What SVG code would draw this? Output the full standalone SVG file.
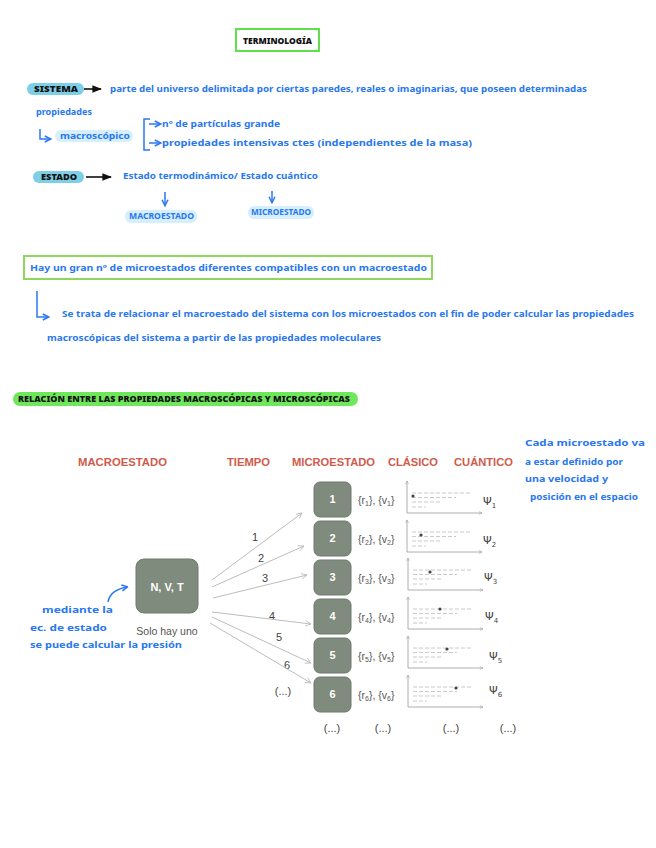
<svg xmlns="http://www.w3.org/2000/svg" width="656" height="848" viewBox="0 0 656 848">
<defs>
<style>
.hw{font-family:"Noto Sans","DejaVu Sans",sans-serif;font-weight:bold;font-size:8.5px;fill:#2a78f0;}
.hk{font-family:"Noto Sans","DejaVu Sans",sans-serif;font-weight:900;font-size:8.5px;fill:#111;}
.hd{font-family:"Liberation Sans",Arial,sans-serif;font-weight:bold;font-size:11.5px;fill:#cf5b4b;}
.gb{fill:#7f8b7d;stroke:#6e7a6c;stroke-width:1;}
.gt{font-family:"Liberation Sans",Arial,sans-serif;font-weight:bold;font-size:11px;fill:#fff;text-anchor:middle;}
.lb{font-family:"Liberation Sans",Arial,sans-serif;font-size:10.5px;fill:#555;}
.num{font-family:"Liberation Sans",Arial,sans-serif;font-size:11px;fill:#444;text-anchor:middle;}
.con{stroke:#bcbcbc;stroke-width:1;fill:none;marker-end:url(#ga);}
.ax{stroke:#9a9a9a;stroke-width:0.8;fill:none;marker-end:url(#sa);}
.ds{stroke:#bdbdbd;stroke-width:0.8;stroke-dasharray:4 2;}
.bl{stroke:#2a78f0;stroke-width:1.5;fill:none;}
.psi{font-family:"DejaVu Sans",sans-serif;font-size:11px;fill:#444;}
</style>
<marker id="ga" viewBox="0 0 10 10" refX="9" refY="5" markerWidth="7" markerHeight="7" orient="auto"><path d="M1,1 L9,5 L1,9" fill="none" stroke="#bcbcbc" stroke-width="1.2"/></marker>
<marker id="sa" viewBox="0 0 10 10" refX="9" refY="5" markerWidth="5" markerHeight="5" orient="auto"><path d="M1,1 L9,5 L1,9" fill="none" stroke="#9a9a9a" stroke-width="1.2"/></marker>
<marker id="ka" viewBox="0 0 10 10" refX="9" refY="5" markerWidth="6" markerHeight="6" orient="auto"><path d="M0,1 L10,5 L0,9 z" fill="#111"/></marker>
<marker id="ba" viewBox="0 0 10 10" refX="8" refY="5" markerWidth="5" markerHeight="5" orient="auto"><path d="M1,1 L9,5 L1,9" fill="none" stroke="#2a78f0" stroke-width="2"/></marker>
</defs>
<rect width="656" height="848" fill="#fff"/>

<g id="title">
<rect x="236" y="29" width="83" height="22" fill="#fff" stroke="#5ee04a" stroke-width="2"/>
<text class="hk" x="243" y="44" textLength="69" lengthAdjust="spacingAndGlyphs">TERMINOLOGÍA</text>
</g>

<g id="sistema">
<rect x="27" y="83" width="57" height="12" rx="6" fill="#7ccfe6"/>
<text class="hk" x="34" y="92" textLength="44" lengthAdjust="spacingAndGlyphs">SISTEMA</text>
<text class="hw" x="110" y="92" textLength="477" lengthAdjust="spacingAndGlyphs">parte del universo delimitada por ciertas paredes, reales o imaginarias, que poseen determinadas</text>
<text class="hw" x="36" y="115" textLength="56" lengthAdjust="spacingAndGlyphs">propiedades</text>
<rect x="55" y="130" width="78" height="12" rx="6" fill="#d6effb"/>
<text class="hw" x="60" y="139" textLength="70" lengthAdjust="spacingAndGlyphs">macroscópico</text>
<text class="hw" x="162" y="127" textLength="118" lengthAdjust="spacingAndGlyphs">nº de partículas grande</text>
<text class="hw" x="162" y="146" textLength="310" lengthAdjust="spacingAndGlyphs">propiedades intensivas ctes (independientes de la masa)</text>
</g>

<g id="estado">
<rect x="33" y="171" width="51" height="12" rx="6" fill="#7ccfe6"/>
<text class="hk" x="41" y="180" textLength="36" lengthAdjust="spacingAndGlyphs">ESTADO</text>
<text class="hw" x="123" y="179" textLength="195" lengthAdjust="spacingAndGlyphs">Estado termodinámico/ Estado cuántico</text>
<rect x="125" y="210" width="72" height="13" rx="6" fill="#d6effb"/>
<text class="hw" x="129" y="219" textLength="65" lengthAdjust="spacingAndGlyphs">MACROESTADO</text>
<rect x="248" y="206" width="66" height="13" rx="6" fill="#d6effb"/>
<text class="hw" x="251" y="215" textLength="60" lengthAdjust="spacingAndGlyphs">MICROESTADO</text>
</g>

<g id="nota-microestados">
<rect x="24" y="256" width="408" height="23" fill="#fff" stroke="#8fd65c" stroke-width="2"/>
<text class="hw" x="30" y="271" textLength="397" lengthAdjust="spacingAndGlyphs">Hay un gran nº de microestados diferentes compatibles con un macroestado</text>
</g>

<g id="nota-relacion">
<text class="hw" x="62" y="317" textLength="572" lengthAdjust="spacingAndGlyphs">Se trata de relacionar el macroestado del sistema con los microestados con el fin de poder calcular las propiedades</text>
<text class="hw" x="47" y="341" textLength="334" lengthAdjust="spacingAndGlyphs">macroscópicas del sistema a partir de las propiedades moleculares</text>
</g>

<g id="relacion-header">
<rect x="13" y="392" width="345" height="14" rx="7" fill="#6ee85a"/>
<text class="hk" x="18" y="402" textLength="332" lengthAdjust="spacingAndGlyphs">RELACIÓN ENTRE LAS PROPIEDADES MACROSCÓPICAS Y MICROSCÓPICAS</text>
</g>

<g id="headers">
<text class="hd" x="78" y="466" textLength="89" lengthAdjust="spacingAndGlyphs">MACROESTADO</text>
<text class="hd" x="227" y="466" textLength="43" lengthAdjust="spacingAndGlyphs">TIEMPO</text>
<text class="hd" x="292" y="466" textLength="83" lengthAdjust="spacingAndGlyphs">MICROESTADO</text>
<text class="hd" x="388" y="466" textLength="50" lengthAdjust="spacingAndGlyphs">CLÁSICO</text>
<text class="hd" x="454" y="466" textLength="59" lengthAdjust="spacingAndGlyphs">CUÁNTICO</text>
</g>

<g id="nota-derecha">
<text class="hw" x="525" y="446" textLength="120" lengthAdjust="spacingAndGlyphs">Cada microestado va</text>
<text class="hw" x="525" y="465" textLength="98" lengthAdjust="spacingAndGlyphs">a estar definido por</text>
<text class="hw" x="525" y="482" textLength="83" lengthAdjust="spacingAndGlyphs">una velocidad y</text>
<text class="hw" x="530" y="500" textLength="108" lengthAdjust="spacingAndGlyphs">posición en el espacio</text>
</g>

<g id="nota-izquierda">
<text class="hw" x="42" y="613" textLength="71" lengthAdjust="spacingAndGlyphs">mediante la</text>
<text class="hw" x="30" y="631" textLength="77" lengthAdjust="spacingAndGlyphs">ec. de estado</text>
<text class="hw" x="30" y="648" textLength="152" lengthAdjust="spacingAndGlyphs">se puede calcular la presión</text>
</g>

<g id="macroestado">
<rect class="gb" x="136" y="559" width="62" height="54" rx="8"/>
<text class="gt" x="167" y="591">N, V, T</text>
<text class="lb" x="167" y="635" text-anchor="middle">Solo hay uno</text>
</g>

<g id="micro-1"><rect class="gb" x="314" y="482" width="37" height="35" rx="6"/><text class="gt" x="332.5" y="503">1</text><text class="lb" x="358" y="504">{r<tspan font-size="7" dy="2">1</tspan><tspan dy="-2">}, {v</tspan><tspan font-size="7" dy="2">1</tspan><tspan dy="-2">}</tspan></text></g>
<g id="micro-2"><rect class="gb" x="314" y="521" width="37" height="35" rx="6"/><text class="gt" x="332.5" y="542">2</text><text class="lb" x="358" y="543">{r<tspan font-size="7" dy="2">2</tspan><tspan dy="-2">}, {v</tspan><tspan font-size="7" dy="2">2</tspan><tspan dy="-2">}</tspan></text></g>
<g id="micro-3"><rect class="gb" x="314" y="560" width="37" height="35" rx="6"/><text class="gt" x="332.5" y="581">3</text><text class="lb" x="358" y="582">{r<tspan font-size="7" dy="2">3</tspan><tspan dy="-2">}, {v</tspan><tspan font-size="7" dy="2">3</tspan><tspan dy="-2">}</tspan></text></g>
<g id="micro-4"><rect class="gb" x="314" y="599" width="37" height="35" rx="6"/><text class="gt" x="332.5" y="620">4</text><text class="lb" x="358" y="621">{r<tspan font-size="7" dy="2">4</tspan><tspan dy="-2">}, {v</tspan><tspan font-size="7" dy="2">4</tspan><tspan dy="-2">}</tspan></text></g>
<g id="micro-5"><rect class="gb" x="314" y="638" width="37" height="35" rx="6"/><text class="gt" x="332.5" y="659">5</text><text class="lb" x="358" y="660">{r<tspan font-size="7" dy="2">5</tspan><tspan dy="-2">}, {v</tspan><tspan font-size="7" dy="2">5</tspan><tspan dy="-2">}</tspan></text></g>
<g id="micro-6"><rect class="gb" x="314" y="677" width="37" height="35" rx="6"/><text class="gt" x="332.5" y="698">6</text><text class="lb" x="358" y="699">{r<tspan font-size="7" dy="2">6</tspan><tspan dy="-2">}, {v</tspan><tspan font-size="7" dy="2">6</tspan><tspan dy="-2">}</tspan></text></g>

<g id="clasico-plots">
<g transform="translate(0,0)">
<path class="ax" d="M407,513 V481"/><path class="ax" d="M407,513 H482"/>
<line class="ds" x1="412" y1="493" x2="472" y2="493"/><line class="ds" x1="412" y1="497.5" x2="456" y2="497.5"/><line class="ds" x1="412" y1="502" x2="440" y2="502"/><line class="ds" x1="412" y1="507" x2="426" y2="507"/>
<circle cx="413" cy="496" r="1.6" fill="#444"/>
</g>
<g transform="translate(0,39)">
<path class="ax" d="M407,513 V481"/><path class="ax" d="M407,513 H482"/>
<line class="ds" x1="412" y1="493" x2="472" y2="493"/><line class="ds" x1="412" y1="497.5" x2="456" y2="497.5"/><line class="ds" x1="412" y1="502" x2="440" y2="502"/><line class="ds" x1="412" y1="507" x2="426" y2="507"/>
<circle cx="421" cy="496" r="1.6" fill="#444"/>
</g>
<g transform="translate(1,77)">
<path class="ax" d="M407,513 V481"/><path class="ax" d="M407,513 H482"/>
<line class="ds" x1="412" y1="493" x2="472" y2="493"/><line class="ds" x1="412" y1="497.5" x2="456" y2="497.5"/><line class="ds" x1="412" y1="502" x2="440" y2="502"/><line class="ds" x1="412" y1="507" x2="426" y2="507"/>
<circle cx="429" cy="495" r="1.6" fill="#444"/>
</g>
<g transform="translate(1,116)">
<path class="ax" d="M407,513 V481"/><path class="ax" d="M407,513 H482"/>
<line class="ds" x1="412" y1="493" x2="472" y2="493"/><line class="ds" x1="412" y1="497.5" x2="456" y2="497.5"/><line class="ds" x1="412" y1="502" x2="440" y2="502"/><line class="ds" x1="412" y1="507" x2="426" y2="507"/>
<circle cx="439" cy="493" r="1.6" fill="#444"/>
</g>
<g transform="translate(1,155)">
<path class="ax" d="M407,513 V481"/><path class="ax" d="M407,513 H482"/>
<line class="ds" x1="412" y1="493" x2="472" y2="493"/><line class="ds" x1="412" y1="497.5" x2="456" y2="497.5"/><line class="ds" x1="412" y1="502" x2="440" y2="502"/><line class="ds" x1="412" y1="507" x2="426" y2="507"/>
<circle cx="446" cy="494" r="1.6" fill="#444"/>
</g>
<g transform="translate(1,194)">
<path class="ax" d="M407,513 V481"/><path class="ax" d="M407,513 H482"/>
<line class="ds" x1="412" y1="493" x2="472" y2="493"/><line class="ds" x1="412" y1="497.5" x2="456" y2="497.5"/><line class="ds" x1="412" y1="502" x2="440" y2="502"/><line class="ds" x1="412" y1="507" x2="426" y2="507"/>
<circle cx="455" cy="494" r="1.6" fill="#444"/>
</g>
</g>

<g id="cuantico">
<text class="psi" x="483" y="505">Ψ<tspan font-size="7" dy="3">1</tspan></text>
<text class="psi" x="483" y="544">Ψ<tspan font-size="7" dy="3">2</tspan></text>
<text class="psi" x="484" y="581">Ψ<tspan font-size="7" dy="3">3</tspan></text>
<text class="psi" x="485" y="620">Ψ<tspan font-size="7" dy="3">4</tspan></text>
<text class="psi" x="489" y="660">Ψ<tspan font-size="7" dy="3">5</tspan></text>
<text class="psi" x="489" y="694">Ψ<tspan font-size="7" dy="3">6</tspan></text>
</g>

<g id="etiquetas">
<text class="num" x="255" y="541">1</text>
<text class="num" x="261" y="562">2</text>
<text class="num" x="265" y="582">3</text>
<text class="num" x="272" y="620">4</text>
<text class="num" x="279" y="641">5</text>
<text class="num" x="287" y="669">6</text>
<text class="num" x="283" y="695">(...)</text>
<text class="num" x="332" y="732">(...)</text>
<text class="num" x="383" y="732">(...)</text>
<text class="num" x="451" y="732">(...)</text>
<text class="num" x="508" y="732">(...)</text>
</g>

<g id="connectors">
<path d="M84,89 H101" stroke="#111" stroke-width="1.6" marker-end="url(#ka)"/>
<path d="M86,177 H111" stroke="#111" stroke-width="1.6" marker-end="url(#ka)"/>
<path class="bl" d="M40,129 V139 H50" marker-end="url(#ba)"/>
<path class="bl" d="M150,119 H144 V150 H150"/>
<path class="bl" d="M149,124 H160" stroke-width="1" marker-end="url(#ba)"/>
<path class="bl" d="M149,143 H160" stroke-width="1" marker-end="url(#ba)"/>
<path class="bl" d="M165,192 V205" marker-end="url(#ba)"/>
<path class="bl" d="M272,191 V202" marker-end="url(#ba)"/>
<path class="bl" d="M37,291 V317 H48" marker-end="url(#ba)"/>
<path class="bl" d="M108,602 Q110,590 127,587" marker-end="url(#ba)"/>
<path class="con" d="M212,580 L302,513"/>
<path class="con" d="M212,587 L304,546"/>
<path class="con" d="M213,598 L307,575"/>
<path class="con" d="M212,612 L311,624"/>
<path class="con" d="M212,617 L311,663"/>
<path class="con" d="M210,623 L311,683"/>
</g>
</svg>
